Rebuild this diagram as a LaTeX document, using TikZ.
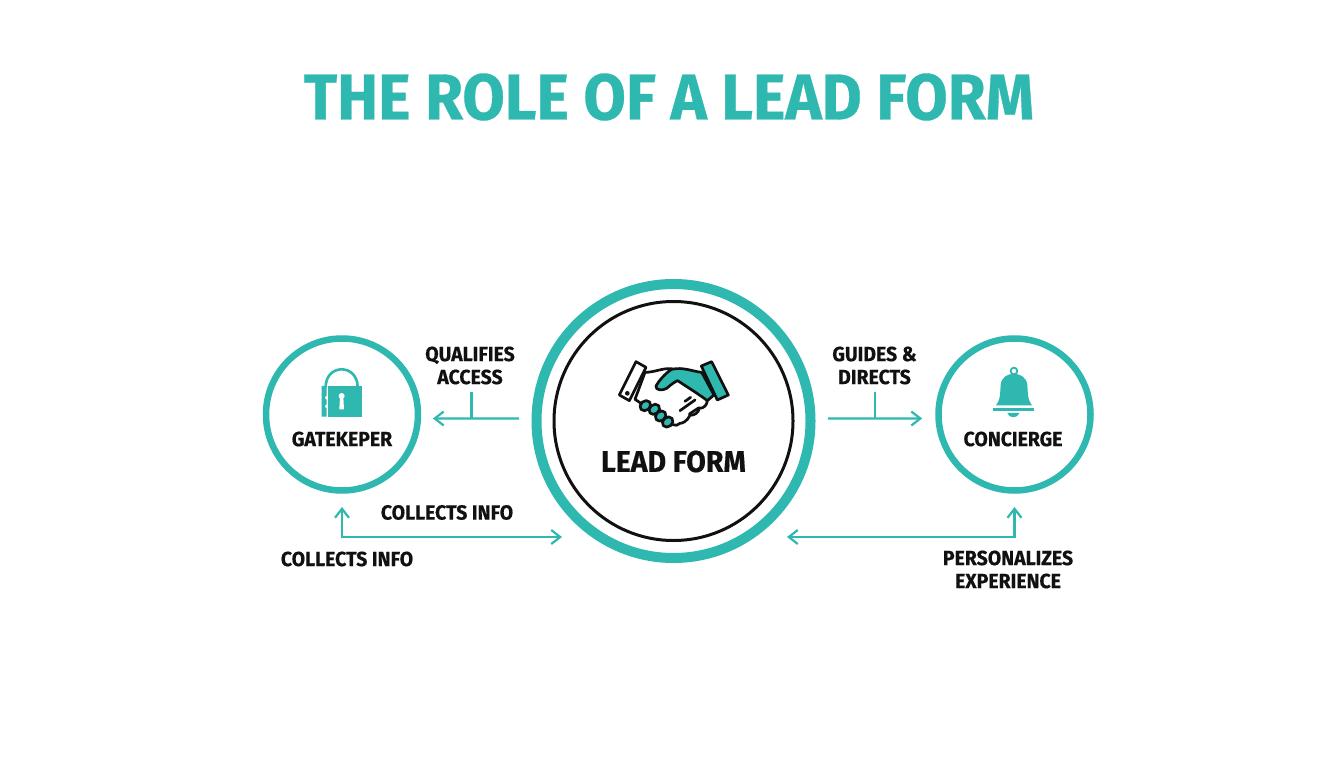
\documentclass[tikz,border=0pt]{standalone}
\usepackage{fontspec}
\setmainfont{Fira Sans}[BoldFont={Fira Sans Bold},BoldFeatures={FakeBold=0.5},FakeStretch=0.95]
\usetikzlibrary{arrows.meta}
\definecolor{teal1}{HTML}{2FB8B0}
\definecolor{ink}{HTML}{111111}
\tikzset{
  ring/.style={circle,draw=teal1,fill=white,outer sep=0pt,inner sep=0pt},
  smallring/.style={ring,line width=6.5pt,minimum size=152pt},
  conn/.style={draw=teal1,line width=2.2pt},
  chev/.tip={Straight Barb[length=9pt,width=14pt,line width=2.2pt]},
  lab/.style={text=ink,font=\fontsize{20.5}{23}\selectfont\bfseries,align=center,inner sep=0pt},
  handline/.style={draw=ink,line width=2.7pt,line join=round,line cap=round}
}
\begin{document}
\begin{tikzpicture}[x=1pt,y=-1pt]
\useasboundingbox[fill=white] (0,0) rectangle (1344,768);
\node[text=teal1,font=\fontsize{64.8}{70}\selectfont\bfseries,inner sep=0pt] (title) at (669,97) {THE ROLE OF A LEAD FORM};

\node[ring,line width=10pt,minimum size=274pt] (form) at (673.5,421) {};
\node[circle,draw=ink,line width=3pt,minimum size=239pt,inner sep=0pt] (forminner) at (673.5,421) {};
\node[smallring] (gate) at (342,414.5) {};
\node[smallring] (conc) at (1014.5,414.5) {};

\node[lab,font=\fontsize{30}{32}\selectfont\bfseries] (formlab) at (673.5,461.5) {LEAD FORM};
\node[lab] (gatelab) at (342,439) {GATEKEPER};
\node[lab] (conclab) at (1013,439) {CONCIERGE};
\node[lab] (qual) at (470,365.5) {QUALIFIES\\ACCESS};
\node[lab] (guides) at (874.5,365.5) {GUIDES \&\\DIRECTS};
\node[lab] (coll1) at (447,512.5) {COLLECTS INFO};
\node[lab] (coll2) at (347,559) {COLLECTS INFO};
\node[lab] (pers) at (1008,569.5) {PERSONALIZES\\EXPERIENCE};

% connectors
\coordinate (lj) at (471.5,419);
\coordinate (rj) at (875,419);
\coordinate (bl) at (562,537);
\coordinate (br) at (787,537);
\draw[conn,-chev,shorten <=17.5pt,shorten >=15pt] (form.179) -- (gate.-3.4);
\draw[conn,-chev,shorten <=17.5pt,shorten >=16.5pt] (form.1) -- (conc.183.4);
\draw[conn] (lj) -- ++(0,-27);
\draw[conn] (rj) -- ++(0,-27);
\draw[conn,chev-chev,shorten <=16.5pt] (gate.south) |- (bl);
\draw[conn,chev-chev,shorten >=16.5pt] (br) -| (conc.south);

% lock
\begin{scope}[shift={(260,330)},x=0.3333pt,y=-0.3333pt]
\draw[teal1,line width=2.6pt] (197,172) .. controls (197,100) and (293,100) .. (293,172);
\fill[teal1] (205,168) rectangle (305,260);
\fill[teal1] (185,168) -- (200,168) -- (200,196) -- (194,203) -- (200,210) -- (200,222) -- (194,229) -- (200,236) -- (200,260) -- (185,260) -- cycle;
\fill[white] (245,198) circle (9);
\fill[white] (240,202) -- (250,202) -- (252,238) -- (238,238) -- cycle;
\end{scope}

% bell
\begin{scope}[shift={(780,330)},x=0.3333pt,y=-0.3333pt]
\draw[teal1,line width=1.8pt] (702,123) circle (10);
\fill[teal1] (648,226) .. controls (664,205) and (660,180) .. (662,165) .. controls (665,120) and (738,120) .. (742,165) .. controls (744,180) and (740,205) .. (756,226) -- cycle;
\fill[teal1] (640,233) rectangle (762,243);
\fill[teal1] (682,249) -- (718,249) .. controls (714,266) and (686,266) .. (682,249) -- cycle;
\end{scope}

% handshake
\begin{scope}[shift={(600,340)},x=0.3333pt,y=-0.3333pt]
\path[handline,fill=white] (135,97) .. controls (165,97) and (185,84) .. (215,86) -- (262,130) -- (322,180)
  .. controls (322,195) and (312,205) .. (298,205)
  .. controls (295,218) and (285,226) .. (270,226)
  .. controls (262,242) and (250,250) .. (240,250)
  .. controls (235,256) and (225,258) .. (218,254) -- (105,178) -- cycle;
\foreach \fx/\fy in {136/197,163/208,182/228,203/246}{
  \path[handline,fill=teal1,rotate around={40:(\fx,\fy)}] (\fx,\fy) ellipse [x radius=17,y radius=14];
}
\draw[handline] (240,212) -- (285,180);
\draw[handline] (268,222) -- (297,203);
\draw[handline] (255,184) -- (272,172);
\path[handline,fill=teal1] (305,97) .. controls (280,95) and (250,80) .. (215,88) .. controls (195,100) and (175,125) .. (168,138) .. controls (165,152) and (190,152) .. (200,145) .. controls (215,132) and (225,125) .. (233,122) .. controls (260,140) and (300,165) .. (322,182) -- (342,165) -- cycle;
\path[handline,fill=white] (108,65) -- (138,82) -- (88,182) -- (58,165) -- cycle;
\fill[ink] (82,160) circle (7);
\path[handline,fill=teal1] (304,78) -- (335,65) -- (385,165) -- (352,180) -- cycle;
\end{scope}
\end{tikzpicture}
\end{document}
